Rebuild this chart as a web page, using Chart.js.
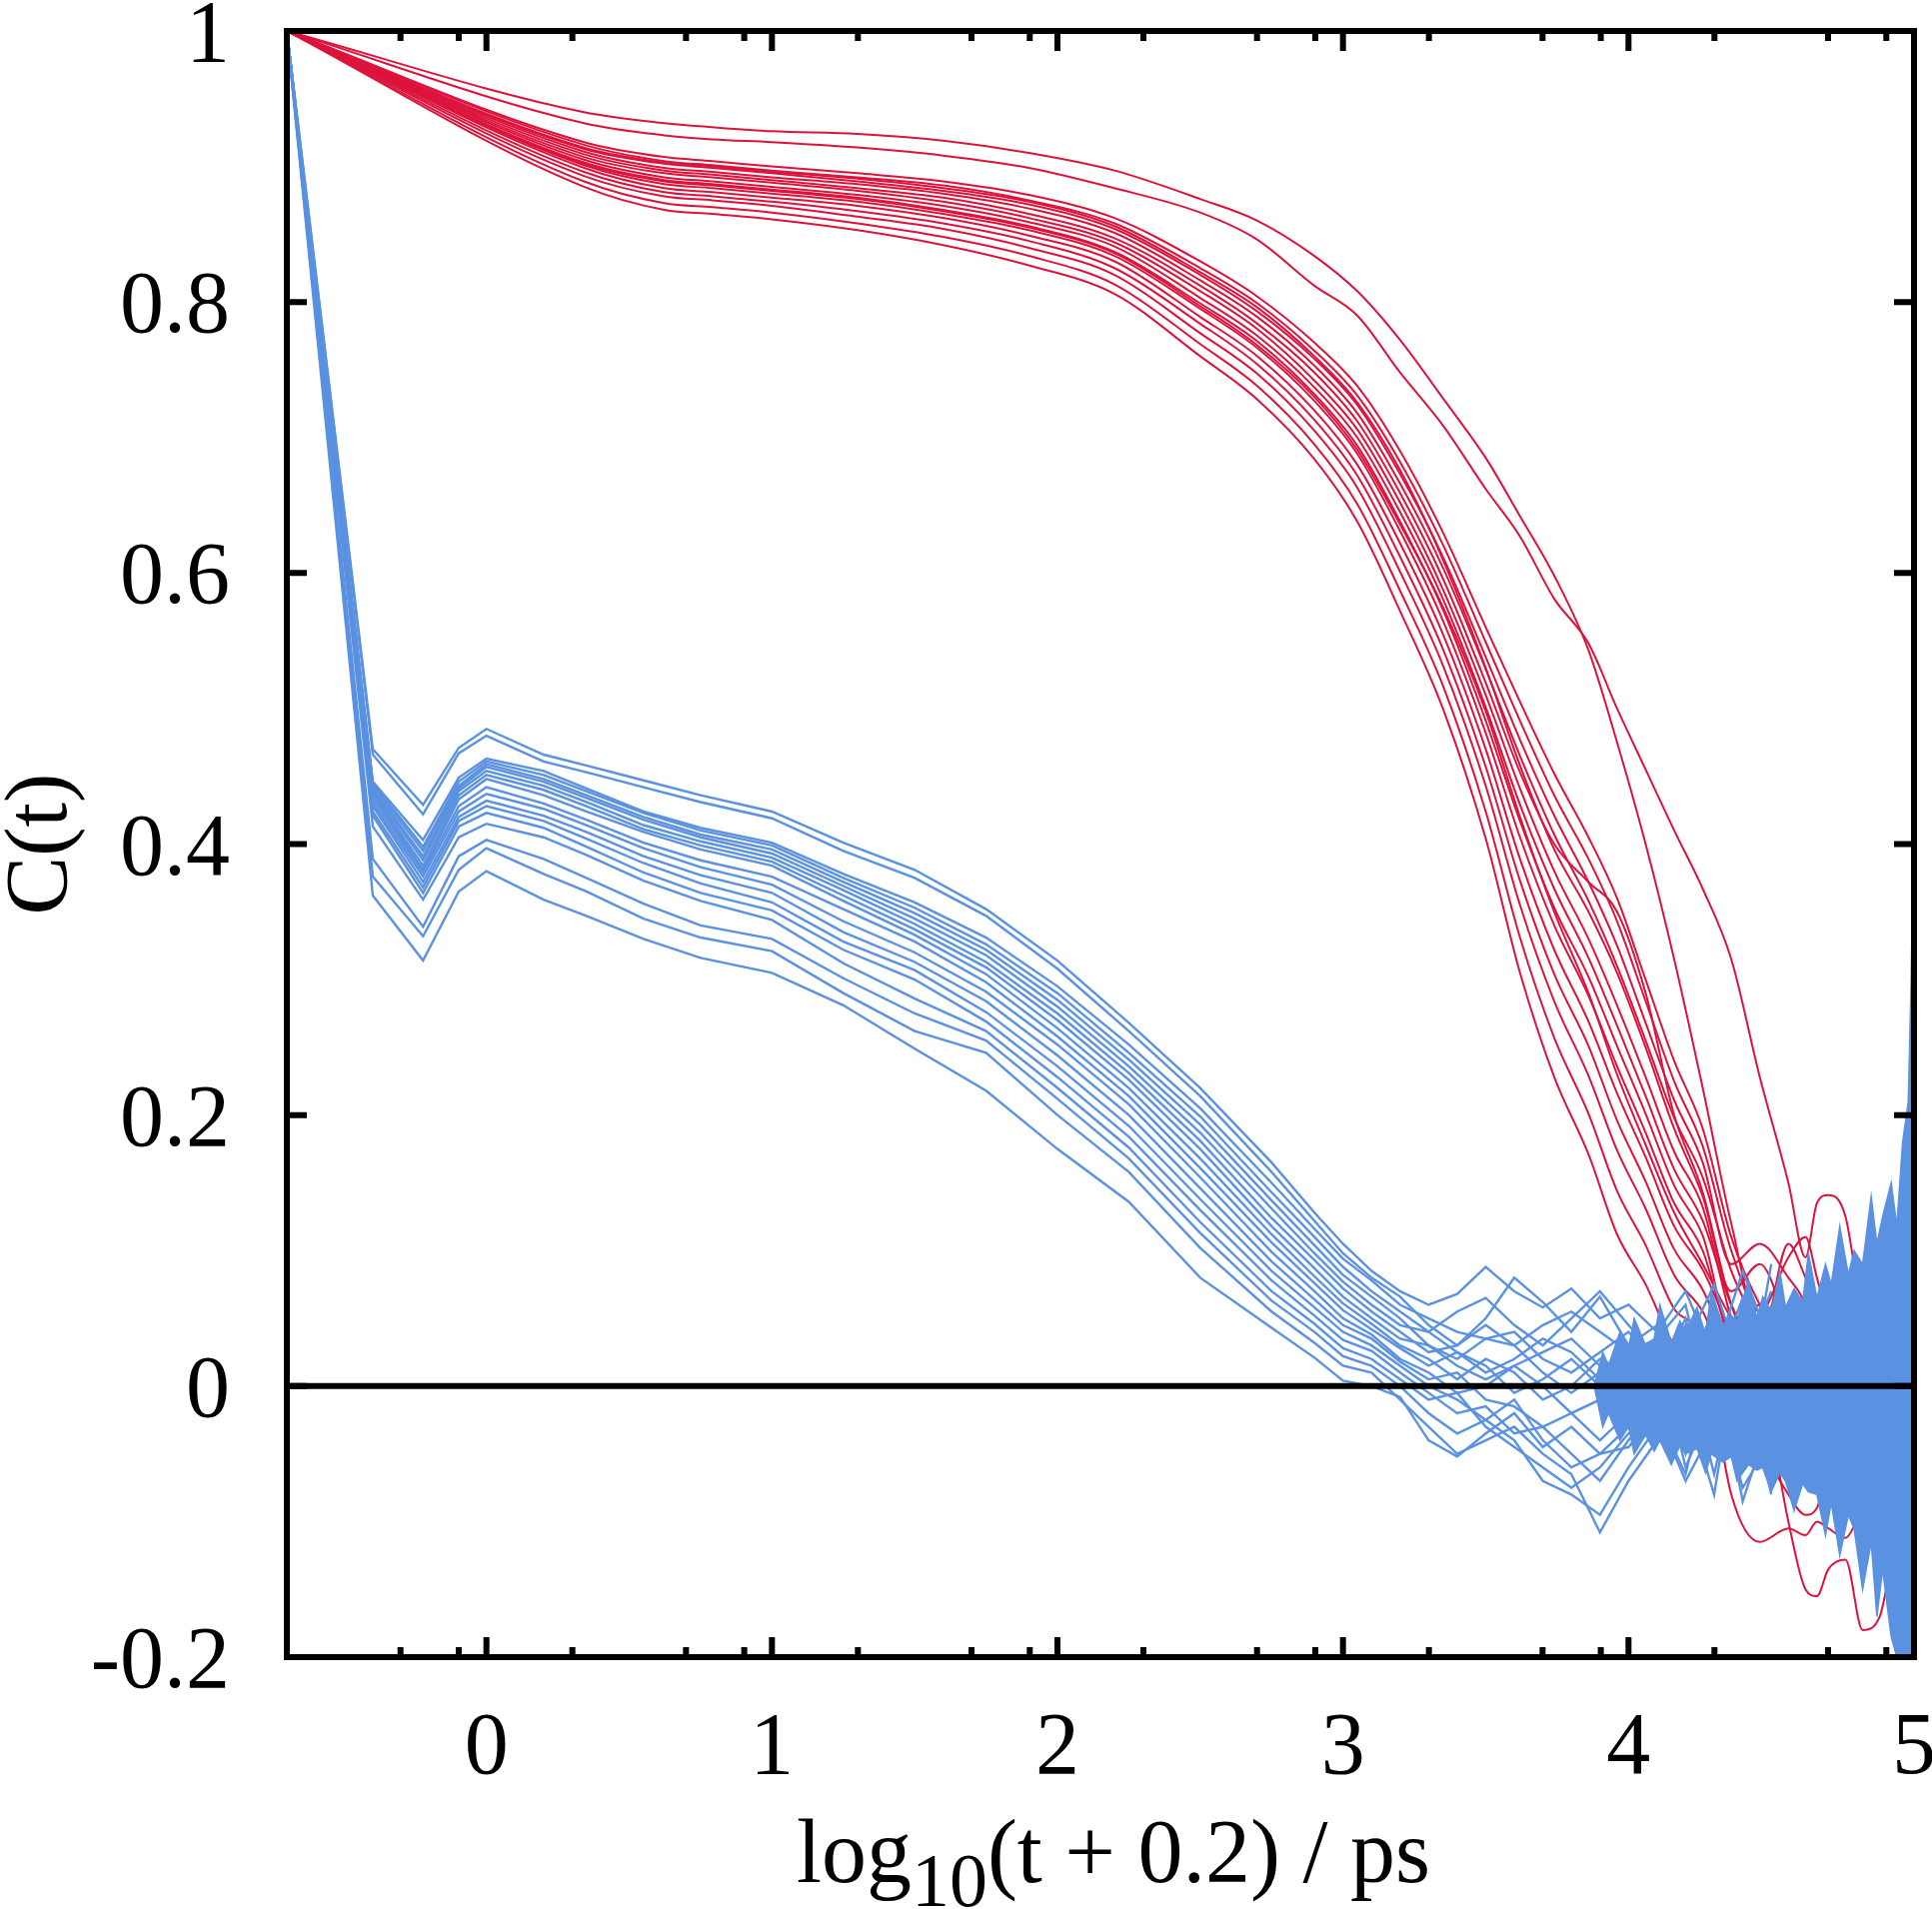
<!DOCTYPE html>
<html>
<head>
<meta charset="utf-8">
<script src="https://cdn.jsdelivr.net/npm/chart.js@4.4.1/dist/chart.umd.min.js"></script>
<style>
  html, body { margin: 0; padding: 0; background: #ffffff; }
  #wrap { width: 1933px; height: 1910px; }
</style>
</head>
<body>
<div id="wrap"><canvas id="corrChart" width="1933" height="1910"></canvas></div>
<script>
// x values are log10(t + 0.2) in ps
const RED_X = [-0.699, 0.342, 0.623, 0.792, 1.0, 1.3, 1.6, 1.9, 2.2, 2.5, 2.7, 2.9, 3.05, 3.2, 3.35, 3.5, 3.62, 3.74, 3.86, 3.96, 4.06, 4.16, 4.26, 4.36, 4.46, 4.56, 4.62, 4.66, 4.70, 4.76, 4.82, 4.88, 4.94, 5.0];

// red curves (slow decay)
const redO1 = [1, .940, .932, .929, .926, .924, .919, .910, .897, .876, .860, .834, .808, .772, .729, .685, .642, .598, .543, .475, .400, .315, .220, .120, .045, .060, .020, .040, .010, -.010, .020, .000, -.010, .000];
const redO2 = [1, .932, .923, .920, .918, .914, .908, .899, .884, .866, .846, .812, .790, .748, .709, .662, .627, .581, .548, .500, .455, .410, .367, .315, .228, .150, .095, .135, .141, .125, .050, .010, -.030, .000];
const redC1 = [1, .918, .907, .904, .900, .895, .889, .879, .862, .830, .804, .770, .738, .690, .630, .560, .505, .452, .405, .360, .300, .240, .190, .110, .060, .030, .050, .040, .020, .010, -.020, .010, .000, .020];
const redC2 = [1, .916, .904, .901, .897, .892, .886, .875, .858, .825, .799, .764, .731, .682, .621, .549, .491, .436, .389, .343, .284, .225, .177, .100, .055, .095, .110, .080, .050, .020, .000, -.030, .010, .000];
const redC3 = [1, .913, .902, .899, .895, .889, .882, .872, .854, .820, .793, .758, .724, .673, .612, .538, .477, .421, .372, .325, .268, .211, .165, .090, .105, .080, .060, .030, .010, -.010, .020, -.020, .010, -.010];
const redC4 = [1, .911, .899, .896, .892, .887, .880, .869, .851, .816, .789, .753, .718, .666, .604, .529, .465, .407, .358, .310, .255, .198, .154, .085, .040, -.010, .020, .040, .030, .000, .030, -.010, .020, .000];
const redC5 = [1, .909, .897, .894, .890, .884, .877, .865, .847, .812, .784, .748, .712, .659, .596, .519, .453, .400, .372, .350, .290, .200, .143, .060, .020, .050, .010, -.020, .000, .020, -.010, .010, -.020, .000];
const redC6 = [1, .907, .895, .892, .888, .882, .874, .862, .844, .808, .780, .742, .706, .652, .588, .510, .441, .380, .330, .281, .228, .173, .132, .050, .000, .030, -.020, .010, .030, -.010, .000, .020, -.010, .010];
const redC7 = [1, .905, .892, .889, .885, .879, .871, .859, .841, .803, .775, .737, .700, .645, .581, .501, .429, .367, .316, .266, .214, .160, .122, .060, .030, .105, .080, .060, .020, -.010, .030, .000, .010, -.020];
const redC8 = [1, .903, .890, .887, .883, .877, .868, .856, .837, .799, .771, .732, .694, .638, .573, .491, .417, .353, .302, .251, .201, .148, .111, .040, .060, .010, .030, -.010, .020, .000, -.020, .010, .000, .010];
const redC9 = [1, .901, .887, .884, .880, .874, .865, .853, .834, .795, .766, .727, .688, .631, .565, .482, .405, .340, .288, .236, .187, .135, .100, .030, .000, -.030, -.010, .020, .000, -.020, .010, -.010, .020, .000];
const redC10 = [1, .899, .884, .881, .877, .871, .862, .849, .830, .789, .760, .720, .680, .622, .555, .470, .389, .322, .269, .216, .169, .118, .086, .040, .010, -.100, -.150, -.155, -.135, -.128, -.180, -.170, -.120, -.160];
const redC11 = [1, .896, .881, .878, .874, .867, .858, .845, .825, .784, .754, .713, .672, .612, .544, .457, .373, .304, .251, .196, .151, .101, .071, .020, -.040, -.080, -.095, -.090, -.060, -.070, -.030, -.050, -.020, -.040];
const redC12 = [1, .893, .878, .875, .871, .863, .854, .840, .820, .777, .747, .705, .663, .601, .532, .443, .355, .284, .229, .174, .131, .082, .055, .010, .030, -.020, .010, .040, .000, -.010, .020, .000, -.010, .010];
const redC13 = [1, .889, .873, .870, .866, .858, .848, .834, .813, .769, .738, .695, .651, .587, .517, .424, .331, .257, .201, .144, .104, .057, .033, -.080, -.115, -.105, -.110, -.100, -.105, -.112, -.095, -.120, -.090, -.110];
const redC14 = [1, .885, .868, .865, .861, .853, .842, .827, .806, .760, .728, .684, .638, .572, .500, .404, .305, .228, .171, .112, .075, .030, .010, -.010, .020, .000, -.020, .010, -.010, .000, .010, -.020, .000, .010];
const redC15 = [1, .914, .903, .900, .896, .891, .884, .874, .856, .822, .796, .760, .726, .676, .610, .530, .458, .396, .350, .305, .250, .190, .140, .070, .090, .040, .000, .020, -.010, .010, .030, .000, -.010, .010];
const redC16 = [1, .902, .889, .886, .882, .876, .867, .855, .836, .797, .768, .730, .691, .636, .575, .498, .420, .350, .290, .230, .178, .128, .090, .050, .020, -.010, .030, .010, -.020, .010, .000, .020, -.010, .000];

const BLUE_X = [-0.699, -0.398, -0.222, -0.097, 0, 0.2, 0.35, 0.55, 0.75, 1.0, 1.25, 1.5, 1.75, 2.0, 2.25, 2.5, 2.75, 2.9, 3.0, 3.1, 3.2, 3.3, 3.4, 3.5, 3.6, 3.7, 3.8, 3.9, 4.0, 4.1, 4.2, 4.3, 4.4, 4.5];

// blue curves (fast decay)
const blueB1 = [1, .470, .429, .471, .485, .466, .458, .447, .436, .424, .401, .381, .352, .314, .268, .220, .165, .128, .105, .085, .070, .060, .068, .088, .070, .058, .072, .050, .060, .040, .070, .020, .085, .030];
const blueB2 = [1, .466, .422, .467, .480, .461, .453, .442, .431, .419, .395, .375, .347, .308, .262, .214, .158, .122, .098, .080, .066, .045, .030, .050, .080, .062, .040, .066, .030, .045, -.020, .050, -.010, .060];
const blueB3 = [1, .446, .403, .449, .463, .454, .441, .424, .412, .401, .378, .357, .331, .295, .252, .205, .150, .116, .094, .078, .060, .050, .040, .035, .030, .045, .055, .040, .025, .035, .060, -.030, .040, -.040];
const blueB4 = [1, .445, .398, .446, .461, .451, .439, .423, .410, .399, .375, .353, .326, .290, .246, .199, .143, .110, .088, .070, .055, .040, .055, .065, .045, .030, .050, .070, .045, .020, -.040, .030, -.060, .020];
const blueB5 = [1, .443, .395, .443, .459, .448, .436, .420, .407, .396, .372, .349, .322, .285, .241, .193, .137, .104, .082, .066, .050, .030, .020, .035, .040, .020, .010, .025, .040, .015, .030, .075, .010, -.030];
const blueB6 = [1, .441, .391, .441, .457, .446, .434, .418, .405, .393, .369, .345, .318, .280, .236, .187, .131, .098, .077, .060, .045, .040, .025, .010, .020, .035, .025, .005, .020, .030, -.060, -.010, .045, .000];
const blueB7 = [1, .440, .388, .439, .454, .443, .431, .414, .402, .390, .366, .341, .313, .275, .231, .181, .124, .093, .072, .055, .040, .025, .030, .045, .030, .010, -.005, .010, .030, .010, .045, -.045, .020, .070];
const blueB8 = [1, .438, .384, .436, .451, .440, .428, .411, .399, .387, .362, .337, .309, .270, .226, .175, .118, .087, .066, .050, .035, .030, .015, .005, .015, .025, .035, .015, -.005, .020, .000, .060, -.050, .030];
const blueB9 = [1, .436, .381, .433, .448, .436, .424, .409, .396, .384, .358, .333, .304, .264, .220, .168, .112, .081, .061, .046, .030, .020, .005, .020, .010, -.010, .000, .020, .010, -.010, -.030, .010, .065, -.060];
const blueB10 = [1, .433, .379, .428, .442, .430, .418, .401, .388, .376, .352, .328, .298, .258, .214, .161, .106, .076, .056, .042, .028, .015, .025, .015, -.005, .005, .020, .000, -.015, .005, .050, -.020, -.040, .040];
const blueB11 = [1, .430, .376, .424, .437, .426, .414, .397, .383, .370, .343, .320, .291, .252, .208, .154, .099, .070, .050, .038, .020, .010, -.005, .000, .015, .000, -.020, -.010, .010, .000, -.050, .040, .000, -.070];
const blueB12 = [1, .428, .372, .420, .432, .421, .409, .391, .377, .364, .335, .313, .284, .244, .200, .146, .092, .064, .045, .035, .018, .005, .010, -.010, -.015, -.030, -.020, -.040, -.020, -.010, .020, -.065, .030, .010];
const blueB13 = [1, .424, .368, .417, .428, .417, .404, .386, .371, .357, .328, .307, .276, .236, .192, .138, .085, .058, .040, .030, .015, .000, -.010, -.025, -.010, -.040, -.060, -.050, -.030, -.020, -.070, -.030, -.020, .050];
const blueB14 = [1, .421, .364, .413, .423, .412, .398, .379, .364, .351, .322, .300, .269, .228, .184, .130, .078, .052, .034, .026, .010, -.005, -.020, -.015, -.035, -.030, -.050, -.070, -.040, -.015, .035, .000, -.075, -.040];
const blueB15 = [1, .413, .359, .405, .415, .405, .392, .373, .358, .344, .312, .286, .262, .220, .176, .121, .070, .046, .028, .020, .005, -.010, -.005, -.030, -.045, -.060, -.075, -.060, -.035, -.025, -.045, .055, .015, -.080];
const blueB16 = [1, .389, .339, .391, .403, .389, .375, .356, .340, .330, .301, .275, .255, .212, .168, .113, .063, .040, .022, .015, .000, -.020, -.035, -.025, -.040, -.070, -.080, -.095, -.060, -.030, -.010, -.080, .050, .020];
const blueB17 = [1, .376, .332, .381, .397, .378, .365, .345, .331, .321, .290, .262, .246, .200, .158, .102, .055, .032, .015, .010, -.010, -.030, -.050, -.040, -.030, -.050, -.065, -.108, -.070, -.040, .015, -.050, -.030, .090];
const blueB18 = [1, .362, .314, .365, .380, .359, .347, .330, .316, .305, .281, .249, .218, .175, .136, .080, .043, .021, .004, .000, -.008, -.040, -.052, -.035, -.020, -.045, -.030, -.050, -.045, -.020, -.065, .025, -.085, -.020];

// dense noisy blue tail at long times: upper and lower edge
const BAND_X = [3.88, 3.91, 3.93, 3.97, 4.00, 4.02, 4.06, 4.09, 4.11, 4.15, 4.18, 4.20, 4.24, 4.27, 4.29, 4.33, 4.36, 4.38, 4.42, 4.45, 4.47, 4.50, 4.53, 4.55, 4.58, 4.61, 4.63, 4.66, 4.69, 4.71, 4.74, 4.77, 4.79, 4.82, 4.85, 4.87, 4.89, 4.92, 4.94, 4.96, 4.98, 4.99, 5.0];
const BAND_HI = [.000, .025, .015, .040, .028, .050, .030, .035, .060, .032, .048, .040, .058, .038, .070, .045, .052, .048, .078, .050, .066, .055, .085, .058, .072, .062, .098, .065, .090, .075, .118, .082, .100, .090, .140, .105, .125, .150, .118, .180, .210, .300, .430];
const BAND_LO = [.000, -.030, -.020, -.040, -.030, -.050, -.036, -.048, -.040, -.058, -.044, -.050, -.046, -.064, -.050, -.056, -.052, -.070, -.058, -.062, -.060, -.078, -.064, -.070, -.092, -.072, -.078, -.080, -.110, -.086, -.125, -.095, -.105, -.150, -.115, -.170, -.135, -.185, -.200, -.200, -.200, -.200, -.200];

const ZERO_X = [-0.699, 5];
const ZERO_Y = [0, 0];

// axis ticks
const X_MAJOR = [0, 1, 2, 3, 4, 5];
const X_LABELS = ['0', '1', '2', '3', '4', '5'];
const X_MINOR = [-0.301, -0.097, 0.301, 0.699, 0.903, 1.301, 1.699, 1.903, 2.301, 2.699, 2.903, 3.301, 3.699, 3.903, 4.301, 4.699, 4.903];
const Y_TICKS = [-0.2, 0, 0.2, 0.4, 0.6, 0.8, 1];
const Y_LABELS = ['-0.2', '0', '0.2', '0.4', '0.6', '0.8', '1'];

const RED = '#dc143c';
const BLUE = '#5a91e1';
const FONT = '"Liberation Serif", "Times New Roman", serif';

function toPoints(xs, ys) {
  return xs.map((x, i) => ({ x: x, y: ys[i] }));
}

const redSeries = [redO1, redO2, redC1, redC2, redC3, redC4, redC5, redC6, redC7, redC8,
  redC9, redC10, redC11, redC12, redC13, redC14, redC15, redC16];
const blueSeries = [blueB1, blueB2, blueB3, blueB4, blueB5, blueB6, blueB7, blueB8, blueB9,
  blueB10, blueB11, blueB12, blueB13, blueB14, blueB15, blueB16, blueB17, blueB18];

const datasets = [];

redSeries.forEach(ys => {
  datasets.push({
    data: toPoints(RED_X, ys),
    borderColor: RED,
    borderWidth: 2,
    cubicInterpolationMode: 'monotone',
    fill: false,
    order: 3
  });
});

blueSeries.forEach(ys => {
  datasets.push({
    data: toPoints(BLUE_X, ys),
    borderColor: BLUE,
    borderWidth: 2.4,
    fill: false,
    order: 2
  });
});

// band: lower edge, then upper edge filled down to it
datasets.push({
  data: toPoints(BAND_X, BAND_LO),
  borderColor: BLUE,
  borderWidth: 1.5,
  fill: false,
  order: 1
});
datasets.push({
  data: toPoints(BAND_X, BAND_HI),
  borderColor: BLUE,
  borderWidth: 1.5,
  backgroundColor: BLUE,
  fill: '-1',
  order: 1
});

datasets.push({
  data: toPoints(ZERO_X, ZERO_Y),
  borderColor: '#000000',
  borderWidth: 6,
  fill: false,
  order: 0
});

// frame, inward ticks, labels and titles
const framePlugin = {
  id: 'framePlugin',
  afterDraw(chart) {
    const ctx = chart.ctx;
    const a = chart.chartArea;
    const xs = chart.scales.x;
    const ys = chart.scales.y;

    ctx.save();
    ctx.strokeStyle = '#000000';
    ctx.lineWidth = 6;
    ctx.beginPath();
    X_MAJOR.forEach(v => {
      const px = xs.getPixelForValue(v);
      ctx.moveTo(px, a.bottom); ctx.lineTo(px, a.bottom - 20);
      ctx.moveTo(px, a.top); ctx.lineTo(px, a.top + 20);
    });
    X_MINOR.forEach(v => {
      const px = xs.getPixelForValue(v);
      ctx.moveTo(px, a.bottom); ctx.lineTo(px, a.bottom - 10);
      ctx.moveTo(px, a.top); ctx.lineTo(px, a.top + 10);
    });
    Y_TICKS.forEach(v => {
      const py = ys.getPixelForValue(v);
      ctx.moveTo(a.left, py); ctx.lineTo(a.left + 20, py);
      ctx.moveTo(a.right, py); ctx.lineTo(a.right - 20, py);
    });
    ctx.stroke();
    ctx.strokeRect(a.left, a.top, a.right - a.left, a.bottom - a.top);

    ctx.fillStyle = '#000000';
    ctx.font = '88px ' + FONT;
    ctx.textBaseline = 'alphabetic';
    ctx.textAlign = 'center';
    X_MAJOR.forEach((v, i) => {
      ctx.fillText(X_LABELS[i], xs.getPixelForValue(v), a.bottom + 116);
    });
    ctx.textAlign = 'right';
    Y_TICKS.forEach((v, i) => {
      ctx.fillText(Y_LABELS[i], a.left - 57, ys.getPixelForValue(v) + 30);
    });

    // x title with subscript
    const mainFont = '90px ' + FONT;
    const subFont = '76px ' + FONT;
    ctx.textAlign = 'left';
    ctx.font = mainFont;
    const w1 = ctx.measureText('log').width;
    const w3 = ctx.measureText('(t + 0.2) / ps').width;
    ctx.font = subFont;
    const w2 = ctx.measureText('10').width;
    const x0 = 1114 - (w1 + w2 + w3) / 2;
    const base = a.bottom + 225;
    ctx.font = mainFont;
    ctx.fillText('log', x0, base);
    ctx.font = subFont;
    ctx.fillText('10', x0 + w1, base + 24);
    ctx.font = mainFont;
    ctx.fillText('(t + 0.2) / ps', x0 + w1 + w2, base);

    // y title
    ctx.translate(66, (a.top + a.bottom) / 2);
    ctx.rotate(-Math.PI / 2);
    ctx.textAlign = 'center';
    ctx.font = '88px ' + FONT;
    ctx.fillText('C(t)', 0, 0);
    ctx.restore();
  }
};

new Chart(document.getElementById('corrChart'), {
  type: 'line',
  data: { datasets: datasets },
  options: {
    responsive: false,
    animation: false,
    devicePixelRatio: 1,
    events: [],
    layout: { padding: { left: 287, right: 18, top: 31, bottom: 252 } },
    elements: { point: { radius: 0 }, line: { tension: 0 } },
    plugins: {
      legend: { display: false },
      tooltip: { enabled: false }
    },
    scales: {
      x: { type: 'linear', min: -0.699, max: 5, display: false },
      y: { type: 'linear', min: -0.2, max: 1, display: false }
    }
  },
  plugins: [framePlugin]
});
</script>
</body>
</html>
